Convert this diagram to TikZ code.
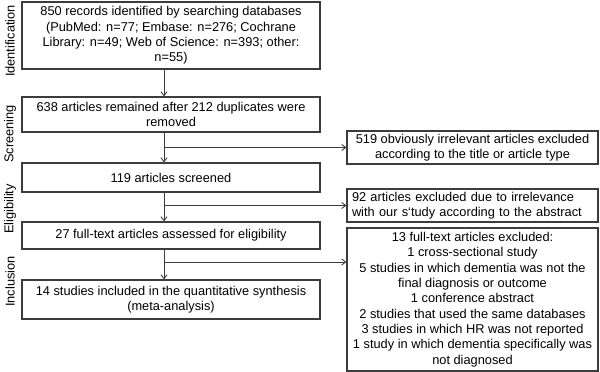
\documentclass[tikz,border=0pt]{standalone}
\usepackage{fontspec}
\setmainfont{Liberation Sans}
\usetikzlibrary{arrows.meta,calc}
\definecolor{edge}{HTML}{3C3C3C}
\begin{document}
\begin{tikzpicture}[x=1pt,y=-1pt,
  font=\fontsize{12.8}{15.3}\selectfont,
  box/.style={draw=edge,line width=1.1pt,inner sep=0pt,align=center,
    minimum width=298pt},
  rbox/.style={draw=edge,line width=1.1pt,inner sep=0pt,align=center,
    minimum width=251pt},
  stage/.style={rotate=90,inner sep=0pt},
  arr/.style={draw=edge,line width=0.9pt,-{Straight Barb[length=4pt,width=6pt]}}]
\useasboundingbox (0,0) rectangle (600,372);
% stage labels
\node[stage] (s1) at (10,41) {Identification};
\node[stage] (s2) at (10,134) {Screening};
\node[stage] (s3) at (10,209) {Eligibility};
\node[stage] (s4) at (10,281.5) {Inclusion};
% left boxes
\node[box,minimum height=67pt] (b1) at (171,35.5) {850 records identified by searching databases\\(PubMed: n=77; Embase: n=276; Cochrane\\Library: n=49; Web of Science: n=393; other:\\n=55)};
\node[box,minimum height=35pt] (b2) at (171,114.5) {638 articles remained after 212 duplicates were\\removed};
\node[box,minimum height=29pt] (b3) at (171,177.5) {119 articles screened};
\node[box,minimum height=27pt] (b4) at (171,235.5) {27 full-text articles assessed for eligibility};
\node[box,minimum height=39pt] (b5) at (171,299.5) {14 studies included in the quantitative synthesis\\(meta-analysis)};
% right boxes
\node[rbox,minimum height=33pt] (r1) at (472.5,147.5) {519 obviously irrelevant articles excluded\\according to the title or article type};
\node[rbox,minimum height=33pt,align=left,inner xsep=5pt,text width=241pt] (r2) at (472.5,205.5) {92 articles excluded due to irrelevance\\with our s‘tudy according to the abstract};
\node[rbox,minimum height=143pt] (r3) at (472.5,299.5) {13 full-text articles excluded:\\1 cross-sectional study\\5 studies in which dementia was not the\\final diagnosis or outcome\\1 conference abstract\\2 studies that used the same databases\\3 studies in which HR was not reported\\1 study in which dementia specifically was\\not diagnosed};
% connectors
\coordinate (xa) at (164,0);
\coordinate (j3) at (164,262);
\draw[arr] (xa |- b1.south) -- (xa |- b2.north);
\draw[arr] (xa |- b2.south) -- (xa |- b3.north);
\draw[arr] (xa |- b3.south) -- (xa |- b4.north);
\draw[arr] (xa |- b4.south) -- (xa |- b5.north);
\draw[arr] (xa |- r1.west) -- (r1.west);
\draw[arr] (xa |- r2.west) -- (r2.west);
\draw[arr] (j3) -- (j3 -| r3.west);
\end{tikzpicture}
\end{document}
